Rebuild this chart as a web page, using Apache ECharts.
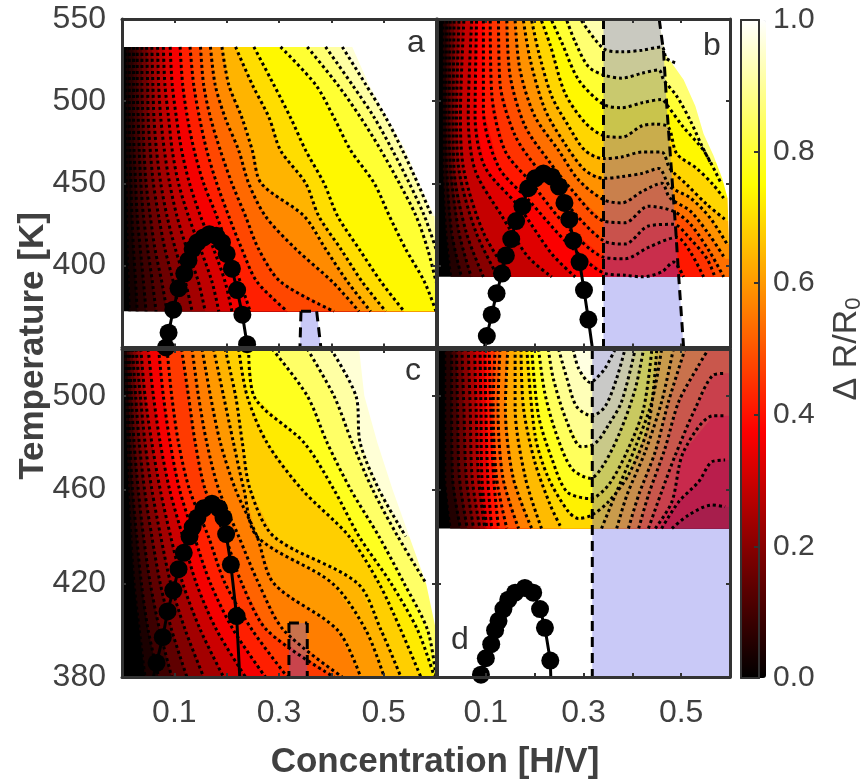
<!DOCTYPE html>
<html>
<head>
<meta charset="utf-8">
<style>html,body{margin:0;padding:0;background:#fff}#chart{width:866px;height:782px}</style>
<script src="https://cdn.jsdelivr.net/npm/echarts@6/dist/echarts.min.js"></script>
</head>
<body>
<div id="chart"></div>
<script>
const xTickLabels = [0.1, 0.3, 0.5]
const topTempLabels = [400, 450, 500, 550]
const bottomTempLabels = [380, 420, 460, 500]

// panel a: x position of each contour at these temperatures
const rowsA = [533, 510, 490, 470, 450, 430, 410, 390, 372]
const levelsA = [.03, .06, .09, .12, .16, .20, .24, .28, .32, .36, .42, .48, .53, .58, .64, .70, .74, .80, .86, .91, .96]
const contoursA = [
  [.007, .007, .007, .008, .008, .009, .01, .012, .014],
  [.014, .014, .014, .015, .017, .019, .022, .026, .029],
  [.022, .022, .022, .023, .026, .029, .035, .041, .046],
  [.029, .029, .031, .033, .036, .041, .049, .058, .065],
  [.038, .038, .04, .042, .046, .054, .063, .076, .086],
  [.047, .049, .05, .054, .06, .07, .082, .098, .108],
  [.057, .059, .061, .066, .074, .086, .102, .121, .134],
  [.068, .07, .074, .081, .091, .105, .124, .146, .159],
  [.079, .082, .089, .096, .108, .127, .15, .172, .185],
  [.092, .096, .104, .114, .129, .15, .175, .197, .21],
  [.111, .116, .125, .138, .156, .181, .204, .226, .245],
  [.13, .137, .148, .162, .181, .204, .229, .258, .316],
  [.15, .156, .169, .188, .21, .236, .261, .303, .405],
  [.169, .178, .197, .223, .242, .274, .332, .402, .453],
  [.191, .204, .229, .249, .266, .348, .389, .431, .475],
  [.217, .249, .281, .303, .351, .376, .418, .459, .504],
  [.252, .29, .322, .351, .386, .412, .453, .495, .539],
  [.303, .37, .405, .437, .482, .511, .542, .578, .6],
  [.354, .412, .456, .495, .53, .562, .584, .6, null],
  [.389, .44, .482, .517, .549, .578, .6, null, null],
  [.421, .466, .504, .536, .565, .592, null, null, null]
]
const edgeA = [.44, .472, .507, .542, .568, .597, .6, null, null]
const domeA = [[.084, 350], [.089, 359], [.098, 373], [.108, 386], [.119, 395], [.127, 403], [.135, 410], [.144, 414], [.156, 417], [.167, 419], [.18, 418], [.191, 414], [.2, 407], [.21, 398], [.22, 385], [.23, 370], [.239, 352]]
const patchA = [[.342, 372], [.372, 372], [.38, 350], [.34, 350]]

// panel c: same layout as panel a
const rowsC = [520, 500, 480, 460, 440, 420, 400, 380]
const levelsC = [.04, .09, .14, .19, .24, .30, .36, .42, .46, .52, .56, .60, .64, .68, .72, .78, .85, .91, .96]
const contoursC = [
  [.004, .006, .009, .012, .017, .023, .033, .044],
  [.009, .012, .015, .02, .028, .037, .05, .07],
  [.014, .018, .023, .031, .041, .054, .072, .095],
  [.02, .026, .033, .043, .057, .073, .095, .124],
  [.027, .035, .044, .057, .074, .093, .121, .156],
  [.036, .044, .057, .073, .093, .116, .15, .194],
  [.05, .06, .073, .091, .116, .142, .181, .236],
  [.07, .079, .092, .11, .138, .169, .213, .274],
  [.086, .095, .108, .129, .165, .197, .249, .316],
  [.114, .127, .14, .159, .197, .229, .277, .405],
  [.134, .146, .162, .185, .223, .261, .309, .421],
  [.153, .169, .188, .217, .258, .29, .412, .456],
  [.175, .194, .213, .233, .258, .402, .466, .501],
  [.197, .217, .23, .245, .29, .45, .495, .533],
  [.223, .239, .277, .344, .434, .491, .533, .571],
  [.242, .252, .348, .405, .453, .514, .565, .597],
  [.287, .354, .392, .437, .491, .539, .584, .6],
  [.354, .405, .44, .479, .527, .581, null, null],
  [.399, .447, .455, .491, .542, null, null, null]
]
const edgeC = [.453, .463, .488, .517, .549, .581, .6, .6]
const domeC = [[.066, 386], [.078, 397], [.087, 408], [.098, 417], [.108, 426], [.118, 433], [.129, 440], [.135, 444], [.144, 448], [.156, 452], [.172, 454], [.185, 452], [.194, 448], [.199, 441], [.208, 428], [.219, 406]]
const tailC = [[.06, 380], [.225, 380]]
const patchC = [[.319, 403], [.354, 403], [.354, 380], [.319, 380]]

// panel b: contours wave in temperature, so these are [x, T] pairs
const levelsB = [.05, .1, .15, .2, .25, .29, .33, .37, .41, .45, .49, .54, .59, .64, .69, .74, .8, .86, .92]
const contoursB = [
  [[.012, 549], [.012, 491], [.012, 458], [.018, 420], [.028, 393]],
  [[.02, 549], [.018, 491], [.02, 458], [.03, 420], [.05, 393]],
  [[.027, 549], [.025, 491], [.028, 458], [.045, 420], [.07, 393]],
  [[.035, 549], [.033, 491], [.035, 458], [.06, 420], [.095, 393]],
  [[.045, 549], [.04, 491], [.045, 458], [.08, 420], [.125, 393]],
  [[.055, 549], [.048, 491], [.055, 458], [.095, 420], [.15, 393]],
  [[.071, 549], [.064, 491], [.078, 458], [.133, 430], [.187, 405], [.235, 393]],
  [[.081, 549], [.078, 491], [.098, 460], [.167, 436], [.235, 407], [.283, 393]],
  [[.095, 549], [.095, 495], [.126, 460], [.187, 440], [.269, 413], [.345, 395], [.385, 394], [.42, 393], [.46, 396], [.484, 402], [.505, 393]],
  [[.109, 549], [.112, 505], [.139, 470], [.194, 450], [.262, 425], [.341, 405], [.385, 404], [.433, 411], [.491, 417], [.519, 408], [.546, 393]],
  [[.126, 549], [.129, 511], [.16, 479], [.208, 458], [.269, 436], [.341, 415], [.385, 413], [.433, 424], [.484, 425], [.519, 416], [.553, 404], [.569, 393]],
  [[.143, 549], [.15, 515], [.18, 485], [.228, 464], [.276, 446], [.341, 427], [.385, 426], [.433, 436], [.484, 433], [.519, 425], [.559, 408], [.587, 393]],
  [[.16, 549], [.17, 519], [.2, 491], [.249, 470], [.29, 452], [.341, 440], [.378, 438], [.42, 445], [.46, 450], [.477, 441], [.519, 433], [.559, 418], [.59, 404]],
  [[.177, 549], [.191, 525], [.221, 495], [.262, 474], [.303, 458], [.341, 453], [.378, 454], [.42, 456], [.454, 459], [.477, 448], [.519, 441], [.559, 429], [.594, 413]],
  [[.194, 549], [.208, 530], [.235, 503], [.269, 485], [.303, 470], [.341, 465], [.378, 466], [.42, 469], [.46, 469], [.477, 459], [.512, 449], [.553, 437], [.594, 427]],
  [[.214, 549], [.232, 534], [.262, 505], [.303, 487], [.341, 479], [.378, 478], [.42, 485], [.447, 486], [.474, 484], [.491, 468], [.532, 459], [.566, 449], [.587, 441]],
  [[.235, 549], [.255, 536], [.29, 513], [.341, 498], [.378, 496], [.42, 499], [.46, 501], [.47, 498], [.505, 484], [.546, 470], [.58, 451]],
  [[.266, 549], [.283, 536], [.31, 521], [.341, 516], [.378, 514], [.42, 517], [.454, 519], [.464, 513], [.491, 503], [.519, 488], [.542, 473], [.559, 463]],
  [[.296, 549], [.341, 532], [.378, 530], [.42, 531], [.46, 533], [.47, 526], [.491, 523]]
]
const edgeB = [[.454, 550], [.467, 529], [.505, 513], [.529, 497], [.546, 480], [.566, 467], [.584, 453], [.595, 441], [.6, 393]]
const domeB = [[.102, 357], [.112, 370], [.122, 383], [.133, 395], [.141, 406], [.152, 416], [.162, 427], [.175, 436], [.187, 447], [.201, 453], [.218, 456], [.235, 454], [.25, 448], [.261, 438], [.271, 428], [.279, 415], [.292, 402], [.301, 385], [.31, 367]]
const tailB = [[.097, 350], [.318, 350]]
const patchB = [[.341, 550], [.455, 550], [.464, 530], [.471, 495], [.481, 454], [.489, 421], [.495, 393], [.505, 350], [.341, 350]]

// panel d: U shaped contours, null splits the left and right branch along the bottom edge
const levelsD = [.05, .1, .15, .2, .25, .3, .34, .4, .45, .5, .56, .62, .65, .69, .73, .78, .84, .89, .93, .97]
const contoursD = [
  [[.016, 520], [.016, 495], [.016, 465], [.027, 443.4]],
  [[.03, 520], [.03, 495], [.032, 465], [.048, 443.4]],
  [[.04, 520], [.042, 495], [.046, 465], [.062, 443.4]],
  [[.051, 520], [.055, 495], [.06, 465], [.075, 443.4]],
  [[.064, 520], [.068, 495], [.072, 465], [.088, 443.4]],
  [[.077, 520], [.08, 495], [.085, 465], [.098, 443.4]],
  [[.088, 520], [.09, 495], [.092, 465], [.102, 443.4], null, [.481, 443.4], [.515, 449.1], [.563, 453.4], [.59, 452.7]],
  [[.098, 520], [.1, 495], [.104, 465], [.112, 443.4], null, [.46, 443.4], [.495, 454.8], [.536, 463.4], [.563, 471.9], [.59, 472.6]],
  [[.107, 520], [.11, 495], [.116, 465], [.126, 443.4], null, [.447, 443.4], [.481, 454.8], [.505, 476.2], [.566, 491.5], [.59, 491.5]],
  [[.119, 520], [.115, 495], [.122, 465], [.143, 443.4], null, [.433, 443.4], [.46, 459.1], [.488, 474.7], [.529, 494.7], [.566, 508.9], [.59, 509.6]],
  [[.129, 520], [.125, 495], [.135, 465], [.167, 443.4], null, [.413, 443.4], [.433, 457.7], [.467, 477.6], [.495, 497.5], [.536, 513.1], [.556, 520]],
  [[.145, 520], [.14, 495], [.156, 465], [.194, 443.4], null, [.392, 443.4], [.413, 457.7], [.447, 476.2], [.474, 497.5], [.508, 520]],
  [[.16, 520], [.16, 495], [.181, 465], [.214, 443.4], null, [.368, 443.4], [.389, 457.7], [.426, 476], [.46, 497.5], [.484, 520]],
  [[.172, 520], [.177, 495], [.2, 472], [.232, 453.4], [.255, 443.4], null, [.337, 443.4], [.365, 457.7], [.406, 478], [.44, 497.5], [.46, 520]],
  [[.184, 520], [.201, 483], [.228, 465], [.269, 450.6], [.29, 447.7], [.317, 449.1], [.351, 454.8], [.392, 466.2], [.433, 487.5], [.45, 520]],
  [[.194, 520], [.208, 491.5], [.235, 473.3], [.266, 459.1], [.314, 456.2], [.351, 461.9], [.389, 476.2], [.423, 494.6], [.44, 520]],
  [[.208, 520], [.221, 501], [.245, 483.3], [.276, 469], [.314, 464.8], [.341, 470.5], [.375, 484.7], [.406, 503], [.423, 520]],
  [[.228, 520], [.238, 507.5], [.266, 489], [.296, 478.3], [.324, 479.7], [.351, 487.5], [.378, 497.5], [.406, 520]],
  [[.249, 520], [.266, 507.5], [.286, 495.4], [.317, 491.5], [.344, 495.4], [.368, 507.5], [.385, 520]],
  [[.279, 520], [.29, 511.7], [.314, 505.7], [.324, 507], [.344, 511.7], [.365, 520]]
]
const domeD = [[.09, 381], [.1, 388], [.111, 394], [.119, 400], [.126, 404], [.136, 409], [.146, 413], [.16, 416], [.18, 418], [.197, 416], [.211, 409], [.221, 401], [.232, 387]]
const tailD = [[.09, 380], [.233, 380]]
const patchD = [[.318, 520], [.6, 520], [.6, 380], [.318, 380]]

const hotColors = ['#000000', '#550000', '#aa0000', '#ff0000', '#ff5500', '#ffaa00', '#ffff00', '#ffff80', '#ffffff']
const frameColor = '#333333'
const textColor = '#404040'
const patchColor = 'rgba(90,90,230,0.33)'
const font = '"Liberation Sans", Arial, sans-serif'

function rowsToPairs (rows, xs) {
  return xs.map((x, i) => (x === null ? null : [x, rows[i]])).filter(p => p)
}

// band to the high side of a contour, closed along the right and top of the panel
function bandPolygon (pairs, xMax, tMax) {
  let pts = pairs.filter(p => p)
  let last = pts[pts.length - 1]
  if (last[1] < tMax - 0.01) pts = pts.concat([[xMax, last[1]], [xMax, tMax]])
  return pts
}

let panels = [
  {
    tMin: 372, tMax: 533, yMin: 350, yMax: 550, rect: { left: 122, top: 19, width: 314, height: 328.5 },
    levels: levelsA, contours: contoursA.map(c => rowsToPairs(rowsA, c)), edge: rowsToPairs(rowsA, edgeA),
    dome: domeA, tail: [], patch: patchA, dashes: [[patchA[0], patchA[3]], [patchA[1], patchA[2]], [patchA[0], patchA[1]]],
    labelsY: topTempLabels, labelsX: false
  },
  {
    tMin: 393, tMax: 550, yMin: 350, yMax: 550, rect: { left: 437, top: 19, width: 293, height: 328.5 },
    levels: levelsB, contours: contoursB, edge: edgeB,
    dome: domeB, tail: tailB, patch: patchB, dashes: [[patchB[0], patchB[8]], patchB.slice(1, 8)],
    labelsY: false, labelsX: false
  },
  {
    tMin: 380, tMax: 520, yMin: 380, yMax: 520, rect: { left: 122, top: 349, width: 314, height: 328 },
    levels: levelsC, contours: contoursC.map(c => rowsToPairs(rowsC, c)), edge: rowsToPairs(rowsC, edgeC),
    dome: domeC, tail: tailC, patch: patchC, dashes: [[patchC[0], patchC[3]], [patchC[1], patchC[2]], [patchC[0], patchC[1]]],
    labelsY: bottomTempLabels, labelsX: true
  },
  {
    tMin: 443.4, tMax: 520, yMin: 380, yMax: 520, rect: { left: 437, top: 349, width: 293, height: 328 },
    levels: levelsD, contours: contoursD, edge: null,
    dome: domeD, tail: tailD, patch: patchD, dashes: [[patchD[0], patchD[3]]],
    labelsY: false, labelsX: true, noClip: true
  }
]

let grid = []
let xAxis = []
let yAxis = []
let series = []
let fillIndexes = []

function polygonItem (polys) {
  return function (params, api) {
    let pts = polys[params.dataIndex].map(p => api.coord(p))
    return { type: 'polygon', shape: { points: pts }, style: { fill: api.visual('color') } }
  }
}

panels.forEach((p, i) => {
  grid.push(p.rect)
  let line = { show: true, onZero: false, lineStyle: { color: frameColor, width: 3 } }
  let tick = { show: true, inside: true, length: 4, lineStyle: { color: frameColor, width: 2 } }
  let tickY = p.yMin === 380 ? Object.assign({}, tick, { customValues: bottomTempLabels }) : tick
  let base = { type: 'value', gridIndex: i, min: 0, max: 0.6, interval: 0.1, splitLine: { show: false }, axisLine: line, axisTick: tick, z: 10 }
  let baseY = { type: 'value', gridIndex: i, min: p.yMin, max: p.yMax, splitLine: { show: false }, axisLine: line, axisTick: tickY, z: 10 }
  if (p.yMin === 350) baseY.interval = 50
  xAxis.push(Object.assign({}, base, {
    position: 'bottom',
    axisLabel: p.labelsX ? { customValues: xTickLabels, formatter: v => v.toFixed(1), fontFamily: font, fontSize: 32, color: textColor, margin: 20 } : { show: false }
  }))
  xAxis.push(Object.assign({}, base, { position: 'top', axisLabel: { show: false } }))
  yAxis.push(Object.assign({}, baseY, {
    position: 'left',
    axisLabel: p.labelsY ? { customValues: p.labelsY, fontFamily: font, fontSize: 32, color: textColor, margin: 16 } : { show: false }
  }))
  yAxis.push(Object.assign({}, baseY, { position: 'right', axisLabel: { show: false } }))

  let axes = { xAxisIndex: i * 2, yAxisIndex: i * 2 }
  let polys = [[[0, p.tMin], [0.6, p.tMin], [0.6, p.tMax], [0, p.tMax]]]
  let fillData = [[0, 0]]
  p.contours.forEach((c, k) => {
    fillData.push([p.levels[k], polys.length])
    polys.push(bandPolygon(c, 0.6, p.tMax))
  })
  if (p.edge) {
    fillData.push([1, polys.length])
    polys.push(bandPolygon(p.edge, 0.6, p.tMax))
  }
  fillIndexes.push(series.length)
  series.push(Object.assign({ type: 'custom', data: fillData, renderItem: polygonItem(polys), clip: true, silent: true, animation: false, encode: { x: [], y: [] } }, axes))

  series.push(Object.assign({
    type: 'custom',
    data: [[0]],
    clip: true,
    silent: true,
    animation: false,
    encode: { x: [], y: [] },
    renderItem: (params, api) => ({ type: 'polygon', shape: { points: p.patch.map(q => api.coord(q)) }, style: { fill: patchColor } })
  }, axes))

  let lineData = []
  p.contours.forEach(c => {
    c.forEach(q => lineData.push(q || [null, null]))
    lineData.push([null, null])
  })
  series.push(Object.assign({
    type: 'line', data: lineData, showSymbol: false, smooth: 0.3, silent: true, animation: false, connectNulls: false,
    lineStyle: { color: '#000', width: 3, type: [3, 3] }
  }, axes))

  let dashData = []
  p.dashes.forEach(d => {
    d.forEach(q => dashData.push(q))
    dashData.push([null, null])
  })
  series.push(Object.assign({
    type: 'line', data: dashData, showSymbol: false, silent: true, animation: false, connectNulls: false,
    lineStyle: { color: '#000', width: 3, type: [10, 6] }
  }, axes))

  let domeLine = p.tail.length ? [p.tail[0]].concat(p.dome, [p.tail[1]]) : p.dome
  series.push(Object.assign({
    type: 'line', data: domeLine, showSymbol: false, silent: true, animation: false, clip: !p.noClip,
    lineStyle: { color: '#000', width: 3 }
  }, axes))
  series.push(Object.assign({
    type: 'scatter', data: p.dome, symbolSize: 18, silent: true, animation: false, clip: !p.noClip,
    itemStyle: { color: '#000', opacity: 1 }
  }, axes))
})

// colour bar frame and scale
grid.push({ left: 741, top: 20, width: 25, height: 658 })
let barLine = { show: true, onZero: false, lineStyle: { color: frameColor, width: 2 } }
xAxis.push({ type: 'value', gridIndex: 4, min: 0, max: 1, position: 'bottom', axisLine: barLine, axisTick: { show: false }, axisLabel: { show: false }, splitLine: { show: false }, z: 10 })
xAxis.push({ type: 'value', gridIndex: 4, min: 0, max: 1, position: 'top', axisLine: barLine, axisTick: { show: false }, axisLabel: { show: false }, splitLine: { show: false }, z: 10 })
yAxis.push({
  type: 'value', gridIndex: 4, min: 0, max: 1, interval: 0.2, position: 'right', axisLine: barLine,
  axisTick: { inside: true, length: 5, lineStyle: { color: frameColor, width: 2 } }, splitLine: { show: false }, z: 10,
  axisLabel: { formatter: v => v.toFixed(1), fontFamily: font, fontSize: 30, color: textColor, margin: 14 },
  name: '{n|\u0394 R/R}{s|0}', nameLocation: 'middle', nameRotate: 90, nameGap: 70,
  nameTextStyle: { rich: { n: { fontFamily: font, fontSize: 34, color: textColor }, s: { fontFamily: font, fontSize: 22, color: textColor, padding: [14, 0, 0, 0] } } }
})
yAxis.push({ type: 'value', gridIndex: 4, min: 0, max: 1, position: 'left', axisLine: barLine, axisTick: { show: false }, axisLabel: { show: false }, splitLine: { show: false }, z: 10 })

function label (text, x, y, size, bold, rotation) {
  return {
    type: 'text', x: x, y: y, rotation: rotation || 0, z: 20,
    style: { text: text, fontFamily: font, fontSize: size, fontWeight: bold ? 'bold' : 'normal', fill: bold ? textColor : '#333', align: 'center', verticalAlign: 'middle' }
  }
}

let myChart = echarts.init(document.getElementById('chart'))
myChart.setOption({
  animation: false,
  backgroundColor: '#fff',
  grid: grid,
  xAxis: xAxis,
  yAxis: yAxis,
  visualMap: {
    type: 'continuous', min: 0, max: 1, dimension: 0, seriesIndex: fillIndexes, left: 741, top: 20, padding: 0,
    itemWidth: 25, itemHeight: 658, text: ['', ''], textGap: 0, calculable: false, hoverLink: false, realtime: false,
    inRange: { color: hotColors }
  },
  series: series,
  graphic: [
    label('a', 416, 43, 32),
    label('b', 712, 46, 32),
    label('c', 413, 371, 32),
    label('d', 460, 640, 32),
    label('Concentration [H/V]', 435, 762, 35, true),
    label('Temperature [K]', 33, 346, 35, true, Math.PI / 2)
  ]
})
</script>
</body>
</html>
